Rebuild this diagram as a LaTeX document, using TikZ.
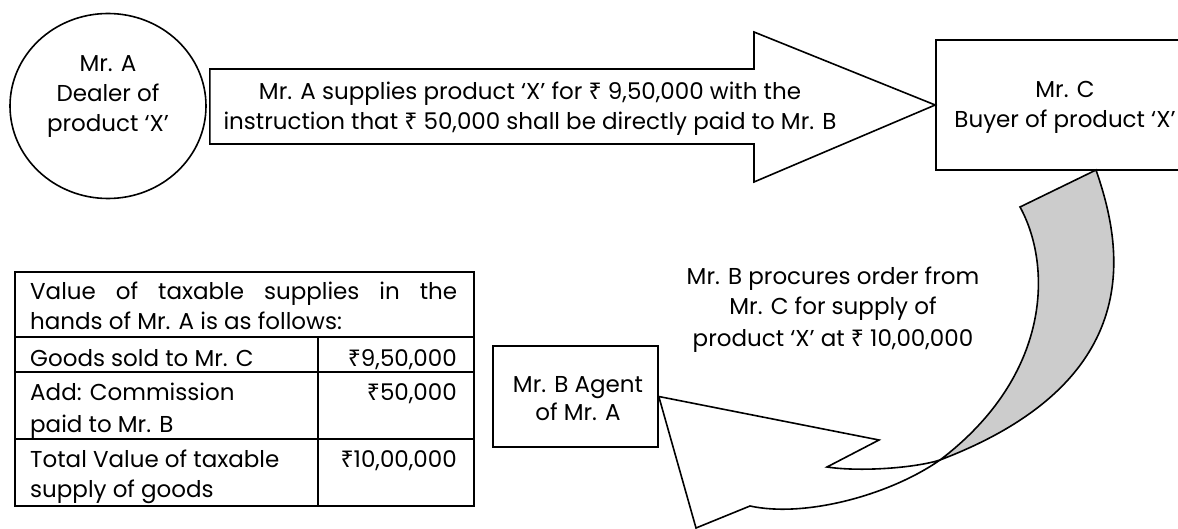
\documentclass[tikz,border=0pt]{standalone}
\usepackage{fontspec}
\setmainfont{Poppins}
\newfontfamily\rupeefont{Noto Sans}
\newcommand{\Rs}{{\rupeefont ₹}}
\usetikzlibrary{shapes.geometric,calc}
\begin{document}
\begin{tikzpicture}[x=1pt,y=-1pt,
  every node/.style={font=\fontsize{23}{27}\selectfont},
  ln/.style={inner sep=0pt, anchor=base},
  lnw/.style={inner sep=0pt, anchor=base west},
  lne/.style={inner sep=0pt, anchor=base east},
  outline/.style={draw=black, line width=1.6pt},
  ]
\useasboundingbox (0,0) rectangle (1178,529);
\clip (0,0) rectangle (1178,529);

% Mr. A (circle)
\node[outline, ellipse, minimum width=196pt, minimum height=185pt, inner sep=0pt] (A) at (108,106) {};
\node[ln] (A1) at (108,72) {Mr. A};
\node[ln] (A2) at (108,102) {Dealer of};
\node[ln] (A3) at (108,132) {product ‘X’};

% Mr. C (box, cut by the right edge)
\node[outline, rectangle, minimum width=288pt, minimum height=130pt] (C) at (1080,105) {};
\node[ln] (C1) at (1065,98) {Mr. C};
\node[ln] (C2) at (1065,128) {Buyer of product ‘X’};

% block arrow A -> C
\draw[outline, fill=white] ($(A.east)+(3,-37)$) -- (754,69) -- (754,32) -- (C.west)
  -- (754,182) -- (754,144) -- ($(A.east)+(3,38)$) -- cycle;
\node[ln] (T1) at (530,100) {Mr. A supplies product ‘X’ for \Rs\ 9,50,000 with the};
\node[ln] (T2) at (530,130) {instruction that \Rs\ 50,000 shall be directly paid to Mr. B};

% Mr. B (box)
\node[outline, rectangle, minimum width=165pt, minimum height=101pt] (B) at (575.5,396.5) {};
\node[ln] (B1) at (578,392) {Mr. B Agent};
\node[ln] (B2) at (578,420) {of Mr. A};

% curved arrow C -> B
\coordinate (tailR) at (1096,170);
\coordinate (tailL) at (1020,207);
\coordinate (twist) at (940,460);
\draw[outline, fill=gray!40] (tailR) .. controls (1122,245) and (1150,380) .. (twist)
  .. controls (1052,375) and (1052,265) .. (tailL) -- cycle;
\draw[outline, fill=white] (twist) .. controls (915,468) and (860,472) .. (827,467)
  -- (879,440) -- (B.east) -- (696,528) -- (750,506)
  .. controls (805,518) and (890,495) .. (twist) -- cycle;

\node[ln] (L1) at (833,285) {Mr. B procures order from};
\node[ln] (L2) at (833,315) {Mr. C for supply of};
\node[ln] (L3) at (833,346) {product ‘X’ at \Rs\ 10,00,000};

% table
\draw[outline] (15,272) rectangle (474,506);
\draw[outline] (15,337) -- (474,337);
\draw[outline] (15,372) -- (474,372);
\draw[outline] (15,439) -- (474,439);
\draw[outline] (318,337) -- (318,506);
\node[lnw] (H1) at (30,300) {\makebox[427pt][s]{Value of taxable supplies in the}};
\node[lnw] (H2) at (30,330) {hands of Mr. A is as follows:};
\node[lnw] (R1) at (30,366) {Goods sold to Mr. C};
\node[lne] (V1) at (457,366) {\Rs9,50,000};
\node[lnw] (R2a) at (30,400) {Add: Commission};
\node[lnw] (R2b) at (30,432) {paid to Mr. B};
\node[lne] (V2) at (457,400) {\Rs50,000};
\node[lnw] (R3a) at (30,467) {Total Value of taxable};
\node[lnw] (R3b) at (30,497) {supply of goods};
\node[lne] (V3) at (457,467) {\Rs10,00,000};
\end{tikzpicture}
\end{document}
